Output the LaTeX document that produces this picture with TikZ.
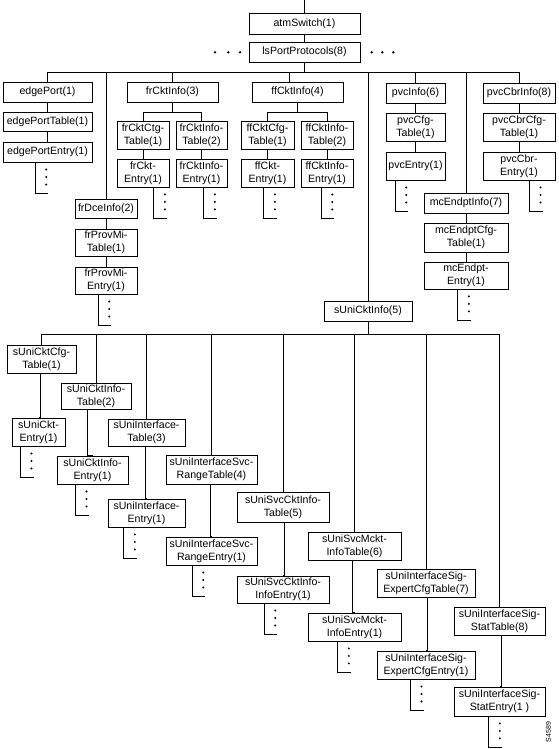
\documentclass[tikz,border=0pt]{standalone}
\usepackage{fontspec}
\setmainfont{Liberation Sans}
\tikzset{
  bx/.style={draw,line width=0.9pt,inner sep=0pt,align=center,font=\fontsize{10.6}{12.6}\selectfont},
  dotmark/.style={fill=black}
}
\newcommand{\bx}[6]{\node[bx,minimum width={(#4-#2)*1pt},minimum height={(#5-#3)*1pt}] (#1) at ({(#2+#4)/2},{(#3+#5)/2}) {#6};}
\newcommand{\vlink}[3]{\draw ([xshift=#3pt]#1.south) |- (#2.north);}
\newcommand{\moredots}[2]{%
  \coordinate (#1-d) at ([xshift=#2pt]#1.south west);
  \coordinate (#1-e) at ([shift={(13pt,-30.5pt)}]#1-d);
  \draw (#1-d) |- (#1-e);
  \foreach \k in {7,14.5,22} \fill[dotmark] ([shift={(11pt,-\k pt)}]#1-d) circle (1.1pt);
}
\begin{document}
\begin{tikzpicture}[x=1pt,y=-1pt,line width=0.9pt]
\useasboundingbox (0,0) rectangle (559,749);
% top
\bx{atm}{249}{13}{360}{34}{atmSwitch(1)}
\bx{lsport}{249}{42}{360}{62}{lsPortProtocols(8)}
\foreach \x in {215,228.3,240,371.7,382.3,393.3} \fill (\x,52.3) circle (1.3pt);
% level 3
\bx{edgeport}{3}{82}{92}{102}{edgePort(1)}
\bx{edgetable}{3}{112}{92}{131}{edgePortTable(1)}
\bx{edgeentry}{3}{142}{92}{162}{edgePortEntry(1)}
\bx{frckt}{127}{82}{218}{102}{frCktInfo(3)}
\bx{frctg}{117}{121}{169}{149}{frCktCtg-\\Table(1)}
\bx{frinfotab}{176}{121}{227}{149}{frCktInfo-\\Table(2)}
\bx{frcktentry}{117}{159}{169}{187}{frCkt-\\Entry(1)}
\bx{frinfoentry}{176}{159}{227}{187}{frCktInfo-\\Entry(1)}
\bx{frdce}{75}{199}{137}{218}{frDceInfo(2)}
\bx{frprovtab}{75}{229}{137}{256}{frProvMi-\\Table(1)}
\bx{frproventry}{75}{267}{137}{294}{frProvMi-\\Entry(1)}
\bx{ffckt}{252}{82}{343}{102}{ffCktInfo(4)}
\bx{ffcfg}{241}{121}{294}{149}{ffCktCfg-\\Table(1)}
\bx{ffinfotab}{301}{121}{353}{149}{ffCktInfo-\\Table(2)}
\bx{ffcktentry}{241}{159}{294}{187}{ffCkt-\\Entry(1)}
\bx{ffinfoentry}{301}{159}{353}{187}{ffCktInfo-\\Entry(1)}
\bx{pvcinfo}{386}{83}{445}{103}{pvcInfo(6)}
\bx{pvccfg}{386}{113}{445}{141}{pvcCfg-\\Table(1)}
\bx{pvcentry}{386}{152}{445}{180}{pvcEntry(1)}
\bx{pvccbr}{483}{83}{555}{103}{pvcCbrInfo(8)}
\bx{pvccbrcfg}{483}{113}{555}{141}{pvcCbrCfg-\\Table(1)}
\bx{pvccbrentry}{483}{152}{555}{180}{pvcCbr-\\Entry(1)}
\bx{mcinfo}{424}{193}{508}{213}{mcEndptInfo(7)}
\bx{mccfg}{424}{223}{508}{252}{mcEndptCfg-\\Table(1)}
\bx{mcentry}{424}{262}{508}{289}{mcEndpt-\\Entry(1)}
\bx{suni}{324}{301}{412}{321}{sUniCktInfo(5)}
% sUni subtree
\bx{s1}{7}{345}{76}{373}{sUniCktCfg-\\Table(1)}
\bx{s1e}{12}{418}{65}{446}{sUniCkt-\\Entry(1)}
\bx{s2}{61}{383}{131}{409}{sUniCktInfo-\\Table(2)}
\bx{s2e}{57}{456}{128}{484}{sUniCktInfo-\\Entry(1)}
\bx{s3}{108}{419}{185}{446}{sUniInterface-\\Table(3)}
\bx{s3e}{108}{499}{185}{527}{sUniInterface-\\Entry(1)}
\bx{s4}{166}{455}{257}{484}{sUniInterfaceSvc-\\RangeTable(4)}
\bx{s4e}{166}{537}{257}{565}{sUniInterfaceSvc-\\RangeEntry(1)}
\bx{s5}{237}{492}{329}{522}{sUniSvcCktInfo-\\Table(5)}
\bx{s5e}{237}{576}{329}{603}{sUniSvcCktInfo-\\InfoEntry(1)}
\bx{s6}{308}{532}{401}{560}{sUniSvcMckt-\\InfoTable(6)}
\bx{s6e}{308}{613}{401}{641}{sUniSvcMckt-\\InfoEntry(1)}
\bx{s7}{377}{569}{475}{597}{sUniInterfaceSig-\\ExpertCfgTable(7)}
\bx{s7e}{377}{651}{475}{679}{sUniInterfaceSig-\\ExpertCfgEntry(1)}
\bx{s8}{454}{607}{545}{635}{sUniInterfaceSig-\\StatTable(8)}
\bx{s8e}{454}{687}{545}{716}{sUniInterfaceSig-\\StatEntry(1 )}
\node[rotate=90,inner sep=0pt,font=\fontsize{7}{8}\selectfont] (figid) at (548.5,732) {S4589};
% connectors: top
\coordinate (topend) at (304.5,0);
\draw (atm.north) -- (topend);
\draw (atm) -- (lsport);
\coordinate (tb) at (304.5,72);
\draw (lsport.south) -- (tb);
\draw (edgeport.north) |- (tb);
\draw (frdce.north) |- (tb);
\draw (frckt.north) |- (tb);
\draw ([xshift=-8.5pt]ffckt.north) |- (tb);
\draw (suni.north) |- (tb);
\draw (pvcinfo.north) |- (tb);
\draw (mcinfo.north) |- (tb);
\draw (pvccbr.north) |- (tb);
% edgePort column
\vlink{edgeport}{edgetable}{0}
\vlink{edgetable}{edgeentry}{0}
\moredots{edgeentry}{32.7}
% frCktInfo
\coordinate (frb) at (172.5,112);
\draw (frckt.south) -- (frb);
\draw (frctg.north) |- (frb);
\draw (frinfotab.north) |- (frb);
\vlink{frctg}{frcktentry}{0}
\vlink{frinfotab}{frinfoentry}{0}
\moredots{frcktentry}{37.3}
\moredots{frinfoentry}{28.3}
% frDceInfo
\vlink{frdce}{frprovtab}{0}
\vlink{frprovtab}{frproventry}{0}
\moredots{frproventry}{23.7}
% ffCktInfo
\coordinate (ffb) at (297.5,112);
\draw (ffckt.south) -- (ffb);
\draw (ffcfg.north) |- (ffb);
\draw (ffinfotab.north) |- (ffb);
\vlink{ffcfg}{ffcktentry}{0}
\vlink{ffinfotab}{ffinfoentry}{0}
\moredots{ffcktentry}{23.3}
\moredots{ffinfoentry}{20.7}
% pvc
\vlink{pvcinfo}{pvccfg}{0}
\vlink{pvccfg}{pvcentry}{0}
\moredots{pvcentry}{9.7}
\vlink{pvccbr}{pvccbrcfg}{0}
\vlink{pvccbrcfg}{pvccbrentry}{0}
\moredots{pvccbrentry}{47}
% mcEndpt
\vlink{mcinfo}{mccfg}{0}
\vlink{mccfg}{mcentry}{0}
\moredots{mcentry}{34.3}
% sUniCktInfo bus
\coordinate (sb) at (368,334.5);
\draw (suni.south) -- (sb);
\foreach \n in {s1,s2,s3,s4,s5,s6,s7,s8} \draw (\n.north) |- (sb);
\vlink{s1}{s1e}{-0.8}
\vlink{s2}{s2e}{-8.7}
\vlink{s3}{s3e}{-0.8}
\vlink{s4}{s4e}{-0.8}
\vlink{s5}{s5e}{1.3}
\vlink{s6}{s6e}{-2.2}
\vlink{s7}{s7e}{1.7}
\vlink{s8}{s8e}{2.2}
\moredots{s1e}{9}
\moredots{s2e}{19}
\moredots{s3e}{16.3}
\moredots{s4e}{26.7}
\moredots{s5e}{27.7}
\moredots{s6e}{30.3}
\moredots{s7e}{34}
\moredots{s8e}{35.3}
\end{tikzpicture}
\end{document}
